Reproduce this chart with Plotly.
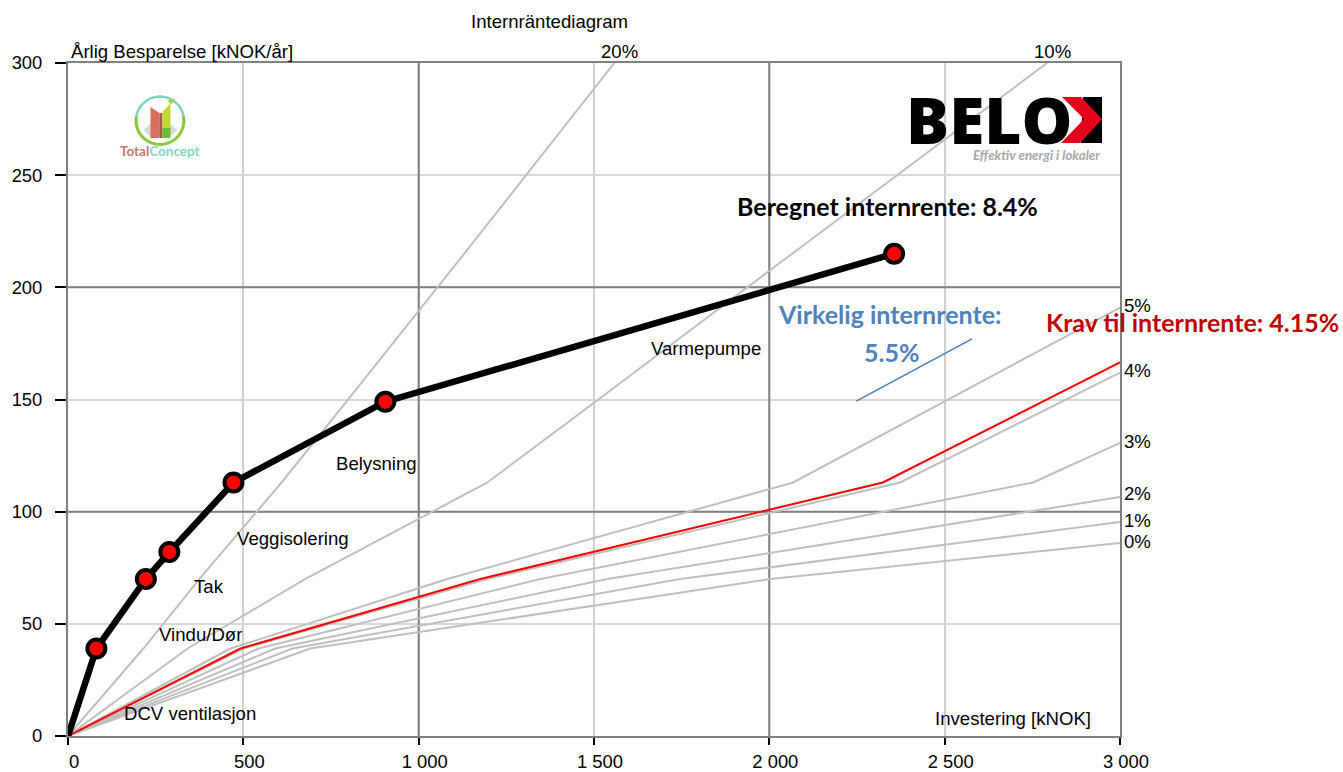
import math
import plotly.graph_objects as go

W, H = 1343, 772
ML, MR, MT, MB = 67.5, 223, 63, 36

# --- data ---
savings_x = [0, 81, 222, 289, 472, 905, 2356]
savings_y = [0, 39, 70, 82, 113, 149, 215]

req_x = [0, 492, 1176, 2324, 3000]
req_y = [0, 39, 70, 113, 166.5]

rate_20_x = [0, 215, 375, 609, 794, 1130, 1558]
rate_20_y = [0, 39, 70, 113, 149, 215, 300]
rate_10_x = [0, 341, 677, 1196, 1504, 2065, 2792]
rate_10_y = [0, 39, 70, 113, 149, 215, 300]
rate_5_x = [0, 463, 1082, 2068, 3000]
rate_5_y = [0, 39, 70, 113, 191]
rate_4_x = [0, 500, 1196, 2373, 3000]
rate_4_y = [0, 39, 70, 113, 162]
rate_3_x = [0, 543, 1347, 2752, 3000]
rate_3_y = [0, 39, 70, 113, 130.6]
rate_2_x = [0, 591, 1538, 3000]
rate_2_y = [0, 39, 70, 106.5]
rate_1_x = [0, 640, 1746, 3000]
rate_1_y = [0, 39, 70, 95.4]
rate_0_x = [0, 691, 2003, 3000]
rate_0_y = [0, 39, 70, 86]

blue_x = [2248, 2578]
blue_y = [149.3, 177]

x_ticks = [0, 500, 1000, 1500, 2000, 2500, 3000]
x_labels = ["0", "500", "1 000", "1 500", "2 000", "2 500", "3 000"]
y_ticks = [0, 50, 100, 150, 200, 250, 300]
dark_x = [1000, 2000]
dark_y = [100, 200]

FONT = "Liberation Sans"
CALLOUT = "Lato"
GREY = "#bfbfbf"

# pixel -> paper helpers for decoration placement
PW = W - ML - MR
PH = H - MT - MB


def fx(p):
    return (p - ML) / PW


def fy(p):
    return 1 - (p - MT) / PH


fig = go.Figure()
for xs, ys in [
    (rate_20_x, rate_20_y), (rate_10_x, rate_10_y), (rate_5_x, rate_5_y),
    (rate_4_x, rate_4_y), (rate_3_x, rate_3_y), (rate_2_x, rate_2_y),
    (rate_1_x, rate_1_y), (rate_0_x, rate_0_y),
]:
    fig.add_trace(go.Scatter(x=xs, y=ys, mode="lines", line=dict(color=GREY, width=2), hoverinfo="skip"))
fig.add_trace(go.Scatter(x=req_x, y=req_y, mode="lines", line=dict(color="#ff0000", width=2)))
fig.add_trace(go.Scatter(x=blue_x, y=blue_y, mode="lines", line=dict(color="#4a7ebb", width=1.5)))
fig.add_trace(go.Scatter(x=savings_x, y=savings_y, mode="lines", line=dict(color="#000000", width=6.5)))
fig.add_trace(go.Scatter(x=savings_x[1:], y=savings_y[1:], mode="markers",
                         marker=dict(size=18, color="#ff0000", line=dict(color="#000000", width=4))))

shapes = []
for v in dark_x:
    shapes.append(dict(type="line", xref="x", yref="y", x0=v, x1=v, y0=0, y1=300,
                       line=dict(color="#808080", width=2), layer="between"))
for v in dark_y:
    shapes.append(dict(type="line", xref="x", yref="y", x0=0, x1=3000, y0=v, y1=v,
                       line=dict(color="#808080", width=2), layer="between"))


def poly(points, color):
    path = "M " + " L ".join(f"{fx(a):.5f},{fy(b):.5f}" for a, b in points) + " Z"
    shapes.append(dict(type="path", xref="paper", yref="paper", path=path,
                       fillcolor=color, line=dict(width=0), layer="above"))


def arc(points, color, width):
    path = "M " + " L ".join(f"{fx(a):.5f},{fy(b):.5f}" for a, b in points)
    shapes.append(dict(type="path", xref="paper", yref="paper", path=path,
                       line=dict(color=color, width=width), layer="above"))


# BELOK arrow mark
poly([(1083, 97), (1102, 97), (1102, 143), (1081, 143)], "#000000")
poly([(1062, 97), (1081, 97), (1102, 119), (1080, 143), (1061, 143), (1084, 119)], "#e2001a")

# TotalConcept mark
ring_top = [(159.5 + 24 * math.cos(math.radians(a)), 120.5 - 24 * math.sin(math.radians(a))) for a in range(-10, 191, 10)]
ring_bot = [(159.5 + 24 * math.cos(math.radians(a)), 120.5 - 24 * math.sin(math.radians(a))) for a in range(170, 371, 10)]
poly([(143, 130), (150, 124), (170, 124), (177, 130), (170, 136), (150, 137)], "#d9d9d9")
arc(ring_top, "#7fd4c0", 2.5)
arc(ring_bot, "#8cc63f", 3)
poly([(150, 107), (159, 113), (159, 138), (150, 138)], "#d9705f")
poly([(159, 113), (162, 113), (162, 138), (159, 138)], "#a85a4a")
poly([(162, 112), (170, 103), (170, 138), (162, 138)], "#c5d83a")
poly([(162, 128), (170, 128), (170, 138), (162, 138)], "#6abf3a")
poly([(167, 101), (171, 104), (175, 99), (171, 99)], "#a4cf4a")


def label(text, left, cy, size=18.6, color="#000000", family=FONT, bold=False, italic=False, weight=None):
    t = text
    if bold:
        t = f"<b>{t}</b>"
    if italic:
        t = f"<i>{t}</i>"
    f = dict(family=family, size=size, color=color)
    if weight:
        f["weight"] = weight
    return dict(text=t, x=fx(left), y=fy(cy), xref="paper", yref="paper", xanchor="left", yanchor="middle",
                showarrow=False, font=f, align="left", borderpad=0, borderwidth=0)


annotations = [
    label("Internräntediagram", 471, 22),
    label("Årlig Besparelse [kNOK/år]", 71, 51),
    label("20%", 601, 51),
    label("10%", 1034, 51),
    label("5%", 1124, 305),
    label("4%", 1124, 371),
    label("3%", 1124, 441),
    label("2%", 1124, 494),
    label("1%", 1124, 520),
    label("0%", 1124, 541),
    label("Belysning", 336, 463),
    label("Veggisolering", 237, 538),
    label("Tak", 194, 586),
    label("Vindu/Dør", 159, 634),
    label("DCV ventilasjon", 124, 713),
    label("Varmepumpe", 651, 348),
    label("Investering [kNOK]", 935, 718),
    label("Beregnet internrente: 8.4%", 737, 206, size=25, family=CALLOUT, bold=True),
    label("Virkelig internrente:", 778, 314, size=25, color="#4f81bd", family=CALLOUT, bold=True),
    label("5.5%", 864, 352, size=25, color="#4f81bd", family=CALLOUT, bold=True),
    label("Krav til internrente: 4.15%", 1046, 322, size=25, color="#c00000", family=CALLOUT, bold=True),
    label("BELO", 906, 119, size=64, family="Open Sans", weight=800),
    label("Effektiv energi i lokaler", 973, 155, size=13.3, color="#a6a6a6", family=CALLOUT, bold=True, italic=True),
    label("<span style='color:#c07a6e'>Total</span><span style='color:#84d6c4'>Concept</span>", 120, 151,
          size=13.5, family=CALLOUT, bold=True),
]

fig.update_layout(
    width=W, height=H, autosize=False,
    margin=dict(l=ML, r=MR, t=MT, b=MB, pad=0, autoexpand=False),
    paper_bgcolor="white", plot_bgcolor="white",
    showlegend=False,
    shapes=shapes, annotations=annotations,
    font=dict(family=FONT, size=18, color="#000000"),
)
fig.update_xaxes(
    range=[0, 3000], tickmode="array", tickvals=x_ticks, ticktext=x_labels,
    ticks="outside", ticklen=7, tickwidth=2, tickcolor="#000000", ticklabelshift=6,
    ticklabelstandoff=1,
    showgrid=True, gridcolor="#d0d0d0", gridwidth=2, zeroline=False, automargin=False,
    showline=True, linecolor="#808080", linewidth=2, mirror=True,
    tickfont=dict(size=18.4, family=FONT),
)
fig.update_yaxes(
    range=[0, 300], tickmode="array", tickvals=y_ticks,
    ticks="outside", ticklen=11, tickwidth=2, tickcolor="#000000",
    ticklabelstandoff=9, automargin=False,
    showgrid=True, gridcolor="#d9d9d9", gridwidth=2, zeroline=False,
    showline=True, linecolor="#808080", linewidth=2, mirror=True,
    tickfont=dict(size=18.4, family=FONT),
)

fig.write_html("out.html", config=dict(displayModeBar=False),
               post_script="document.body.style.margin='0';")
